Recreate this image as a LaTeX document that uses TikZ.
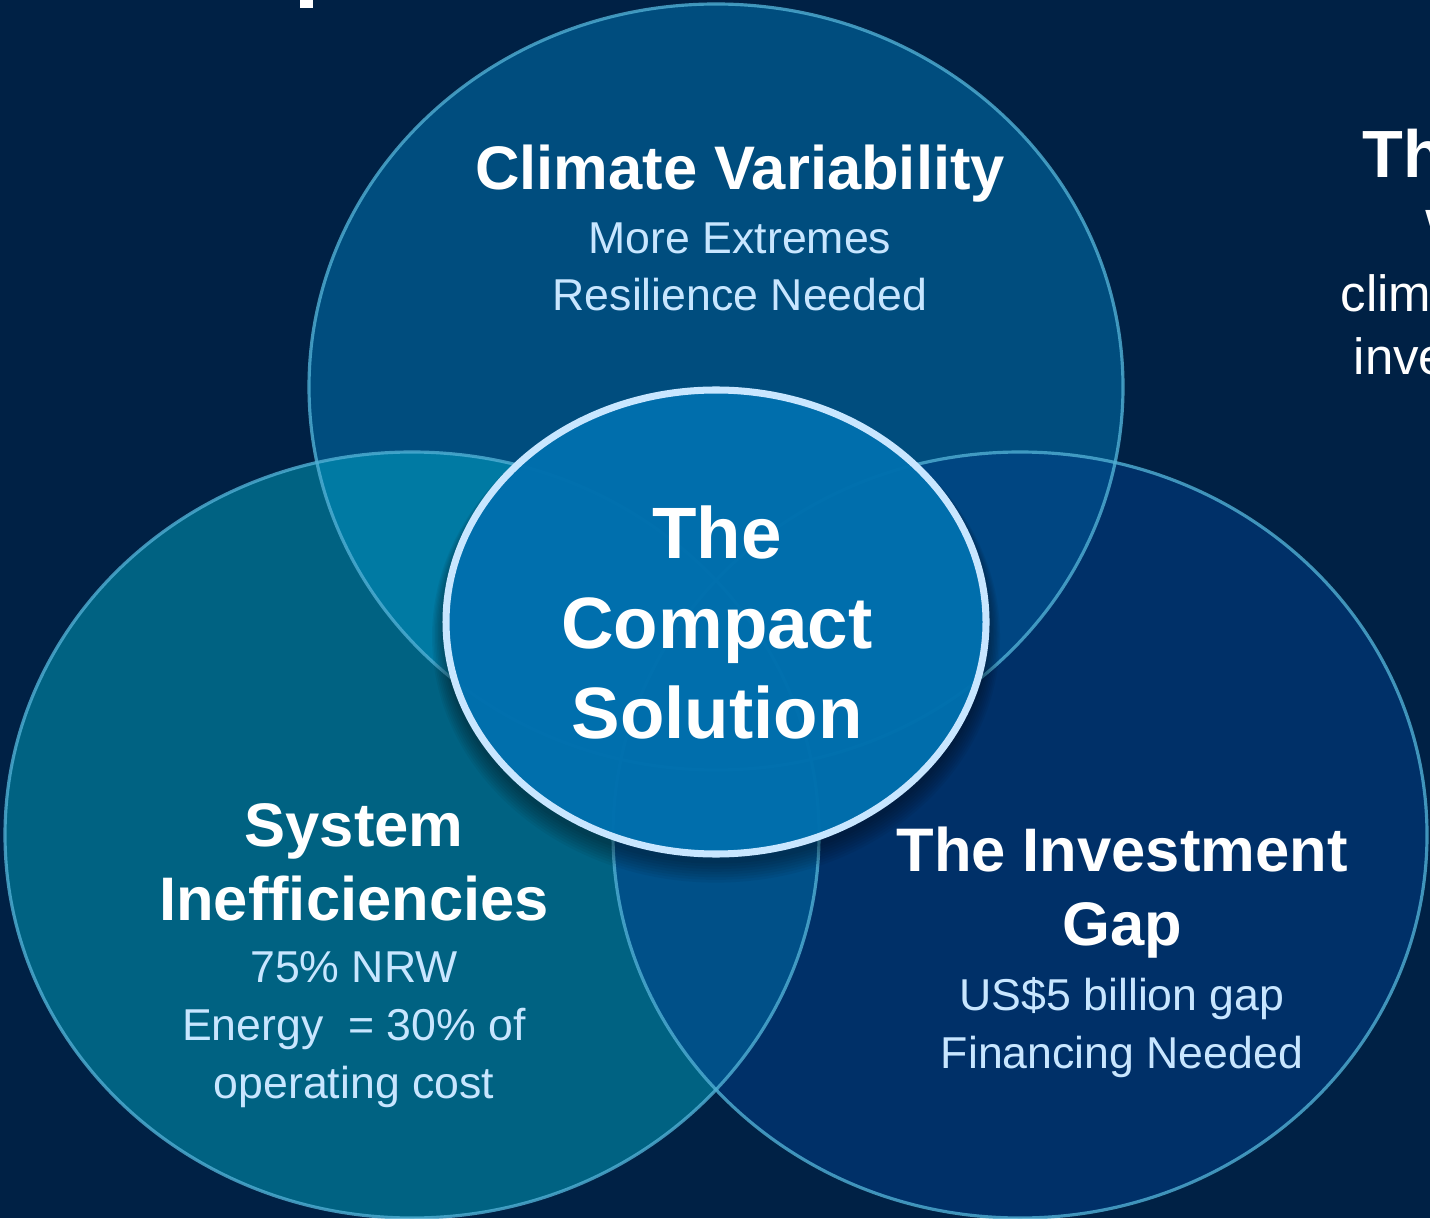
\documentclass[tikz,border=0pt]{standalone}
\usepackage{fontspec}
\setmainfont{Liberation Sans}
\usetikzlibrary{positioning,calc}
\definecolor{bgblue}{RGB}{0,33,69}
\definecolor{topblue}{RGB}{0,77,126}
\definecolor{leftblue}{RGB}{0,98,130}
\definecolor{rightblue}{RGB}{0,48,104}
\definecolor{tlblue}{RGB}{0,122,163}
\definecolor{trblue}{RGB}{0,70,130}
\definecolor{lrblue}{RGB}{0,80,136}
\definecolor{midblue}{RGB}{0,113,176}
\definecolor{rimblue}{RGB}{200,230,255}
\definecolor{edgeblue}{RGB}{80,175,212}
\definecolor{subblue}{RGB}{200,230,255}
\tikzstyle{venn} = [x radius=4.07, y radius=3.83]
\tikzstyle{middle} = [x radius=2.70, y radius=2.32]
\tikzstyle{titletext} = [text=white, inner sep=0pt, align=center, font=\bfseries\fontsize{17.5}{21}\selectfont]
\tikzstyle{bigtext} = [text=white, inner sep=0pt, align=center, font=\bfseries\fontsize{20.7}{25.6}\selectfont]
\tikzstyle{subtext} = [text=subblue, inner sep=0pt, align=center, font=\fontsize{12.7}{16.5}\selectfont]
\tikzstyle{sidetext} = [text=white, inner sep=0pt, font=\fontsize{14.5}{17}\selectfont]

\begin{document}
\begin{tikzpicture}
  \fill[bgblue] (0,0) rectangle (14.3,12.18);
  \useasboundingbox (0,0) rectangle (14.3,12.18);
  \coordinate (climate) at (7.16,8.31);
  \coordinate (system) at (4.12,3.83);
  \coordinate (invest) at (10.20,3.83);
  \coordinate (compact) at (7.16,5.96);
  \fill[topblue] (climate) ellipse [venn];
  \fill[leftblue] (system) ellipse [venn];
  \fill[rightblue] (invest) ellipse [venn];
  \begin{scope}
    \clip (climate) ellipse [venn];
    \fill[tlblue] (system) ellipse [venn];
    \fill[trblue] (invest) ellipse [venn];
  \end{scope}
  \begin{scope}
    \clip (system) ellipse [venn];
    \fill[lrblue] (invest) ellipse [venn];
  \end{scope}
  \foreach \c in {climate,system,invest}
    \draw[edgeblue, line width=0.9pt, draw opacity=0.8] (\c) ellipse [venn];
  % soft shadow under the middle
  \foreach \s in {1,...,8}
    \fill[black, opacity=0.05] ($(compact)+(0,-0.05-\s*0.012)$) ellipse [x radius=2.72+\s*0.015, y radius=2.34+\s*0.015];
  \fill[midblue, fill opacity=0.96] (compact) ellipse [middle];
  \draw[rimblue, line width=2pt] (compact) ellipse [middle];

  \node[titletext, anchor=base] (climatetitle) at (7.40,10.28) {Climate Variability};
  \node[subtext, below=1.21 of climatetitle.base, anchor=base] (climatesub) {More Extremes\\Resilience Needed};
  \node[titletext, anchor=base] (systemtitle) at (3.54,2.98) {System\\Inefficiencies};
  \node[subtext, below=1.78 of systemtitle.base, anchor=base] (systemsub) {75\% NRW\\Energy~ = 30\% of\\operating cost};
  \node[titletext, anchor=base] (investtitle) at (11.22,2.73) {The Investment\\Gap};
  \node[subtext, below=1.23 of investtitle.base, anchor=base] (investsub) {US\$5 billion gap\\Financing Needed};
  \node[bigtext, anchor=base] (compacttitle) at (7.17,4.80) {The\\Compact\\Solution};

  \node[titletext, anchor=base west, font=\bfseries\fontsize{19}{22}\selectfont] (sidehead) at (13.62,10.40) {Th};
  \node[sidetext, anchor=base west] (sidew) at (14.25,9.72) {W};
  \node[sidetext, anchor=base west] (sideclim) at (13.40,9.06) {clim};
  \node[sidetext, anchor=base west] (sideinve) at (13.53,8.43) {inve};
  \fill[white] (3.00,12.10) rectangle (3.13,12.18);
\end{tikzpicture}
\end{document}
